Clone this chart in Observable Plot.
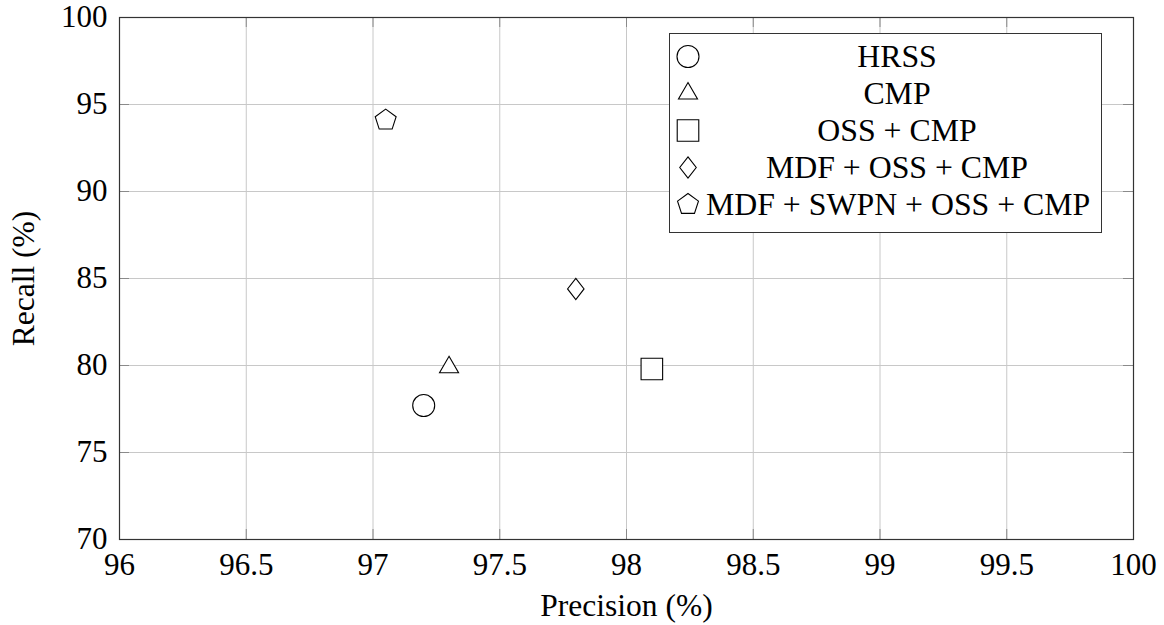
<!DOCTYPE html>
<html><head><meta charset="utf-8">
<script src="https://cdn.jsdelivr.net/npm/d3@7"></script>
<script src="https://cdn.jsdelivr.net/npm/@observablehq/plot@0.6"></script>
<style>
body{margin:0;background:#fff;}
#wrap{position:relative;width:1164px;height:625px;font-family:"Liberation Serif","Times New Roman",Times,"DejaVu Serif",serif;}
#wrap svg text{font-family:"Liberation Serif","Times New Roman",Times,"DejaVu Serif",serif;}
#legend{position:absolute;left:669px;top:33px;width:431px;height:194px;border:1px solid #333;background:#fff;box-sizing:content-box;padding-top:4px;}
.row{display:flex;align-items:center;height:37px;}
.row svg{width:36px;height:37px;flex:none;}
.row span{flex:none;width:382px;text-align:center;font-size:31.8px;line-height:37px;color:#000;white-space:nowrap;}
</style></head><body><div id="wrap"></div>
<script>
const methods = ["HRSS", "CMP", "OSS + CMP", "MDF + OSS + CMP", "MDF + SWPN + OSS + CMP"];
const precision = [97.2, 97.3, 98.1, 97.8, 97.05];
const recall = [77.7, 79.9, 79.8, 84.4, 94.1];
const shapes = ["circle", "triangle", "square", "diamond", "pentagon"];
const xTicks = [96, 96.5, 97, 97.5, 98, 98.5, 99, 99.5, 100];
const yTicks = [70, 75, 80, 85, 90, 95, 100];
const xLabel = "Precision (%)";
const yLabel = "Recall (%)";

const rad = s => Math.sqrt(s / Math.PI);
const symbolDefs = {
  circle: {draw(c, s) { const r = rad(s); c.moveTo(r, 0); c.arc(0, 0, r, 0, 2 * Math.PI); c.closePath(); }},
  triangle: {draw(c, s) { const r = rad(s); c.moveTo(0, -r); c.lineTo(0.866 * r, 0.5 * r); c.lineTo(-0.866 * r, 0.5 * r); c.closePath(); }},
  square: {draw(c, s) { const r = rad(s) * 0.98; c.moveTo(-r, -r); c.lineTo(r, -r); c.lineTo(r, r); c.lineTo(-r, r); c.closePath(); }},
  diamond: {draw(c, s) { const r = rad(s); c.moveTo(0, -0.96 * r); c.lineTo(0.75 * r, 0); c.lineTo(0, 0.96 * r); c.lineTo(-0.75 * r, 0); c.closePath(); }},
  pentagon: {draw(c, s) { const r = rad(s); for (let k = 0; k < 5; k++) { const a = -Math.PI / 2 + k * 2 * Math.PI / 5; const px = r * Math.cos(a), py = r * Math.sin(a); if (k === 0) c.moveTo(px, py); else c.lineTo(px, py); } c.closePath(); }}
};

const data = methods.map((m, i) => ({method: m, precision: precision[i], recall: recall[i], shape: shapes[i]}));

const W = 1164, H = 625, ML = 119, MR = 31, MT = 17, MB = 86;
const frameW = W - ML - MR, frameH = H - MT - MB, tickLen = 10;

const chart = Plot.plot({
  width: W,
  height: H,
  marginLeft: ML,
  marginRight: MR,
  marginTop: MT,
  marginBottom: MB,
  style: {fontFamily: "'Liberation Serif', 'Times New Roman', Times, 'DejaVu Serif', serif", background: "#fff", color: "#000"},
  x: {domain: [96, 100]},
  y: {domain: [70, 100]},
  symbol: {domain: shapes, range: shapes.map(s => symbolDefs[s])},
  marks: [
    Plot.gridX(xTicks, {stroke: "#c8c8c8", strokeOpacity: 1, strokeWidth: 1}),
    Plot.gridY(yTicks, {stroke: "#c8c8c8", strokeOpacity: 1, strokeWidth: 1}),
    Plot.tickX(xTicks, {x: d => d, insetTop: frameH - tickLen, stroke: "#8a8a8a"}),
    Plot.tickX(xTicks, {x: d => d, insetBottom: frameH - tickLen, stroke: "#8a8a8a"}),
    Plot.tickY(yTicks, {y: d => d, insetRight: frameW - tickLen, stroke: "#8a8a8a"}),
    Plot.tickY(yTicks, {y: d => d, insetLeft: frameW - tickLen, stroke: "#8a8a8a"}),
    Plot.frame({stroke: "#333", strokeWidth: 1.2}),
    Plot.axisX(xTicks, {tickSize: 0, tickPadding: 13, fontSize: 31, label: null, tickFormat: d => String(d)}),
    Plot.axisY(yTicks, {tickSize: 0, tickPadding: 12, fontSize: 31, label: null, tickFormat: d => String(d)}),
    Plot.text([xLabel], {frameAnchor: "bottom", dy: 76, fontSize: 31.5, text: d => d, textAnchor: "middle", lineAnchor: "bottom"}),
    Plot.text([yLabel], {frameAnchor: "left", dx: -86, fontSize: 31.5, rotate: -90, text: d => d, textAnchor: "middle", lineAnchor: "bottom"}),
    Plot.dot(data, {x: "precision", y: "recall", symbol: "shape", r: 11, fill: "#fff", stroke: "#000", strokeWidth: 1.1})
  ]
});

const wrap = document.getElementById("wrap");
wrap.appendChild(chart);

const legend = document.createElement("div");
legend.id = "legend";
methods.forEach((m, i) => {
  const row = document.createElement("div");
  row.className = "row";
  const svg = d3.create("svg").attr("viewBox", "-18 -18.5 36 37");
  svg.append("path").attr("d", d3.symbol(symbolDefs[shapes[i]], Math.PI * 121)())
    .attr("fill", "#fff").attr("stroke", "#000").attr("stroke-width", 1.1);
  row.appendChild(svg.node());
  const sp = document.createElement("span");
  sp.textContent = m;
  row.appendChild(sp);
  legend.appendChild(row);
});
wrap.appendChild(legend);
</script>
</body></html>
